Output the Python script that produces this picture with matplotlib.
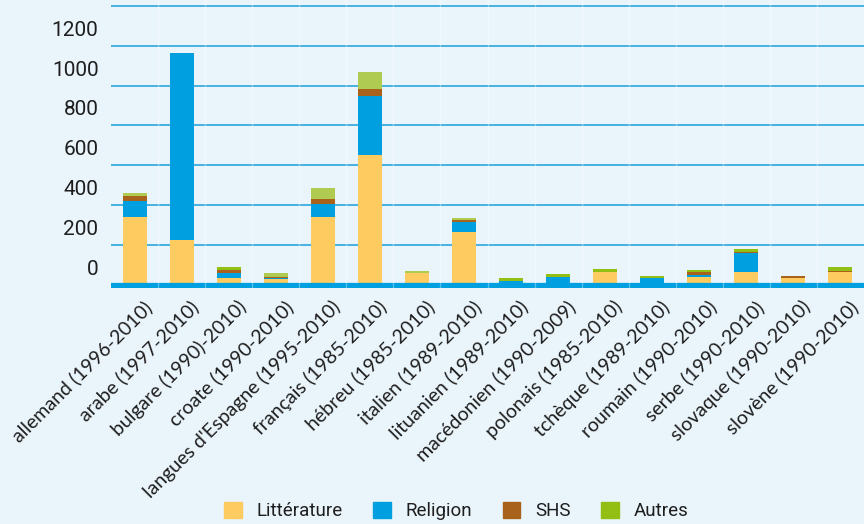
import matplotlib
matplotlib.use("Agg")
import matplotlib.pyplot as plt
import matplotlib.transforms as mtransforms
from matplotlib.patches import Patch
import numpy as np

# --- data ---
categories = [
    "allemand (1996-2010)", "arabe (1997-2010)", "bulgare (1990)-2010)",
    "croate (1990-2010)", "langues d'Espagne (1995-2010)", "français (1985-2010)",
    "hébreu (1985-2010)", "italien (1989-2010)", "lituanien (1989-2010)",
    "macédonien (1990-2009)", "polonais (1985-2010)", "tchèque (1989-2010)",
    "roumain (1990-2010)", "serbe (1990-2010)", "slovaque (1990-2010)",
    "slovène (1990-2010)",
]
litterature = [339, 224, 33, 30, 339, 651, 58, 264, 3, 5, 63, 3, 38, 63, 33, 63]
religion = [81, 939, 25, 4, 65, 296, 0, 50, 17, 33, 0, 30, 10, 95, 0, 0]
shs = [25, 0, 15, 4, 26, 35, 0, 10, 0, 0, 0, 0, 15, 5, 10, 5]
autres = [15, 0, 15, 18, 55, 86, 10, 10, 15, 15, 15, 12, 10, 15, 0, 20]
series_names = ["Littérature", "Religion", "SHS", "Autres"]
y_ticks = [0, 200, 400, 600, 800, 1000, 1200]

# --- style ---
BG = "#eaf5fb"
C_LIT = "#fdcb5f"
C_REL = "#009fe0"
C_SHS = "#a8621c"
C_AUT = "#93be13"
C_AUT_LIGHT = "#afcb52"
GRID = "#2aa6de"
TXT = "#1e1e1e"
light_autres = {0, 3, 4, 5, 6, 7}

plt.rcParams['font.family'] = ['Roboto', 'DejaVu Sans']

fig = plt.figure(figsize=(8.64, 5.24), dpi=100, facecolor=BG)
ax = fig.add_axes([111 / 864, (524 - 288) / 524, 1 - 111 / 864, 288 / 524])
ax.set_facecolor(BG)

x = np.arange(len(categories))
w = 0.51
lit = np.array(litterature)
rel = np.array(religion)
sh = np.array(shs)
aut = np.array(autres)
aut_colors = [C_AUT_LIGHT if i in light_autres else C_AUT for i in range(len(categories))]

ax.bar(x, lit, w, color=C_LIT, zorder=3)
ax.bar(x, rel, w, bottom=lit, color=C_REL, zorder=3)
ax.bar(x, sh, w, bottom=lit + rel, color=C_SHS, zorder=3)
ax.bar(x, aut, w, bottom=lit + rel + sh, color=aut_colors, zorder=3)

ax.set_xlim(-0.5, len(categories) - 0.5)
ax.set_ylim(-17, 1430)

# horizontal grid lines every 200, incl. the one above 1200
for v in y_ticks[1:] + [1400]:
    ax.axhline(v, color=GRID, lw=1.2, zorder=1)
# faint separators between categories
for b in np.arange(0.5, len(categories) - 0.5, 1):
    ax.axvline(b, color="white", lw=1, alpha=0.35, zorder=5)
# thick baseline
ax.axhline(0, color=C_REL, lw=3.8, zorder=4)

for s in ax.spines.values():
    s.set_visible(False)

ax.set_yticks(y_ticks)
ax.set_yticklabels([str(v) for v in y_ticks], fontsize=15, color=TXT)
ax.tick_params(axis='y', length=0, pad=9)
offset = mtransforms.ScaledTranslation(0, 0.175, fig.dpi_scale_trans)
for lab in ax.get_yticklabels():
    lab.set_transform(lab.get_transform() + offset)

ax.set_xticks(x)
ax.set_xticklabels(categories, rotation=45, ha='right', rotation_mode='anchor',
                   fontsize=14, color=TXT, family=['Lato', 'DejaVu Sans'])
ax.tick_params(axis='x', length=0, pad=7)
xoff = mtransforms.ScaledTranslation(0.08, 0, fig.dpi_scale_trans)
for lab in ax.get_xticklabels():
    lab.set_transform(lab.get_transform() + xoff)

handles = [Patch(color=c) for c in (C_LIT, C_REL, C_SHS, C_AUT)]
fig.legend(handles, series_names, loc='lower center', ncol=4, frameon=False,
           bbox_to_anchor=(0.528, -0.025), fontsize=13.5, handlelength=0.95,
           handleheight=0.95, columnspacing=1.6, handletextpad=0.8, labelcolor=TXT)

fig.savefig("out.png", dpi=100, facecolor=BG)
